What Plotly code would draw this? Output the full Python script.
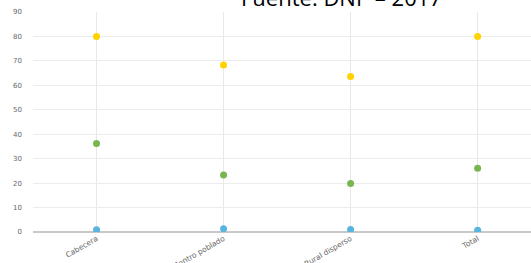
import plotly.graph_objects as go

categories = ["Cabecera", "Centro poblado", "Rural disperso", "Total"]
serie_amarilla = [80.0, 68.3, 63.6, 80.0]
serie_verde = [36.2, 23.3, 19.8, 26.1]
serie_azul = [0.9, 1.3, 1.0, 0.7]
y_ticks = [0, 10, 20, 30, 40, 50, 60, 70, 80, 90]

fig = go.Figure()
for vals, col, name in [
    (serie_amarilla, "#FFD200", "Serie 1"),
    (serie_verde, "#78B650", "Serie 2"),
    (serie_azul, "#5AB4E0", "Serie 3"),
]:
    fig.add_trace(go.Scatter(x=categories, y=vals, mode="markers", name=name,
                             marker=dict(color=col, size=7, line=dict(width=0))))

fig.update_layout(
    width=531, height=263,
    margin=dict(l=33, r=0, t=12, b=31),
    paper_bgcolor="white", plot_bgcolor="white",
    showlegend=False,
    font=dict(family="DejaVu Sans, Verdana", size=7, color="#666"),
)
fig.add_annotation(text="Fuente: DNP – 2017", xref="paper", yref="paper",
                   x=(341 - 33) / 498, y=1, xanchor="center", yanchor="middle",
                   yshift=15, showarrow=False,
                   font=dict(family="Open Sans, Arial", size=22, color="#000"))
fig.update_xaxes(type="category", range=[-0.5, 3.42], showgrid=True, automargin=False,
                 gridcolor="#e8e8e8", gridwidth=1, tickangle=-30,
                 tickfont=dict(size=7.5, color="#666"), ticks="", showline=False,
                 zeroline=False)
fig.update_yaxes(range=[0, 90], tickvals=y_ticks, showgrid=True, gridcolor="#ececec",
                 gridwidth=1, zeroline=True, zerolinecolor="#c8c8c8", zerolinewidth=2,
                 automargin=False,
                 tickfont=dict(size=7, color="#666"), ticklabelstandoff=10, ticks="")
fig.write_html("out.html", config={"displayModeBar": False},
               post_script="document.body.style.margin='0';")
